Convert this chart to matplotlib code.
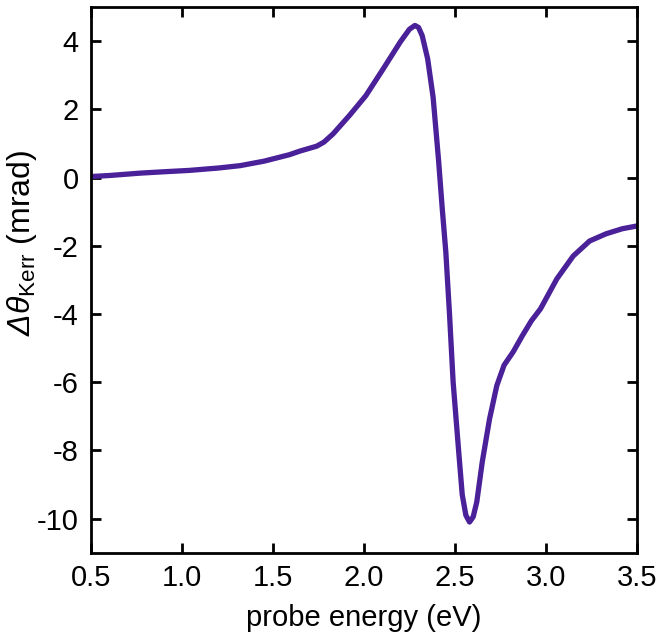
import matplotlib
matplotlib.use('Agg')
import matplotlib.pyplot as plt
import numpy as np

plt.rcParams['font.family'] = ['Liberation Sans', 'DejaVu Sans']
plt.rcParams['mathtext.fontset'] = 'custom'
plt.rcParams['mathtext.rm'] = 'Liberation Sans'
plt.rcParams['mathtext.it'] = 'Liberation Sans:italic'
plt.rcParams['mathtext.sf'] = 'Liberation Sans:italic'
plt.rcParams['axes.unicode_minus'] = False

# probe energy (eV) and Kerr rotation change (mrad)
energy = [0.50, 0.60, 0.77, 0.90, 1.04, 1.20, 1.32, 1.45, 1.59, 1.65, 1.74, 1.78,
          1.83, 1.92, 2.01, 2.10, 2.20, 2.25, 2.28, 2.30, 2.32, 2.35, 2.38, 2.41,
          2.43, 2.45, 2.47, 2.49, 2.52, 2.54, 2.56, 2.58, 2.60, 2.62, 2.65, 2.69,
          2.73, 2.77, 2.82, 2.87, 2.92, 2.97, 3.06, 3.15, 3.24, 3.33, 3.42, 3.50]
kerr = [0.03, 0.06, 0.13, 0.17, 0.21, 0.28, 0.35, 0.48, 0.67, 0.78, 0.92, 1.04,
        1.28, 1.82, 2.40, 3.14, 3.98, 4.35, 4.46, 4.40, 4.16, 3.48, 2.35, 0.50,
        -0.90, -2.20, -4.00, -6.00, -8.00, -9.30, -9.90, -10.10, -9.95, -9.51, -8.34, -7.08,
        -6.10, -5.50, -5.11, -4.64, -4.20, -3.85, -2.97, -2.30, -1.86, -1.65, -1.50, -1.42]

xticks = [0.5, 1.0, 1.5, 2.0, 2.5, 3.0, 3.5]
yticks = [-10, -8, -6, -4, -2, 0, 2, 4]

fig = plt.figure(figsize=(6.6, 6.39), dpi=100)
ax = fig.add_axes([0.138, 0.135, 0.827, 0.854])

ax.plot(energy, kerr, color='#4a2199', lw=3.8, solid_capstyle='round', solid_joinstyle='round')

ax.set_xlim(0.5, 3.5)
ax.set_ylim(-11, 5)
ax.set_xticks(xticks)
ax.set_xticklabels([f'{t:.1f}' for t in xticks])
ax.set_yticks(yticks)
ax.set_yticklabels([str(t) for t in yticks])

ax.tick_params(direction='in', length=7, width=2, labelsize=21, top=True, right=True)
ax.tick_params(axis='y', pad=9)
ax.tick_params(axis='x', pad=8)
for s in ax.spines.values():
    s.set_linewidth(2)

ax.set_xlabel('probe energy (eV)', fontsize=21, labelpad=9)
ax.set_ylabel(r'$\mathsf{Δθ}_{\mathrm{Kerr}}$ (mrad)', fontsize=23)
ax.yaxis.set_label_coords(-0.095, 0.568)

fig.savefig('out.png', dpi=100)
